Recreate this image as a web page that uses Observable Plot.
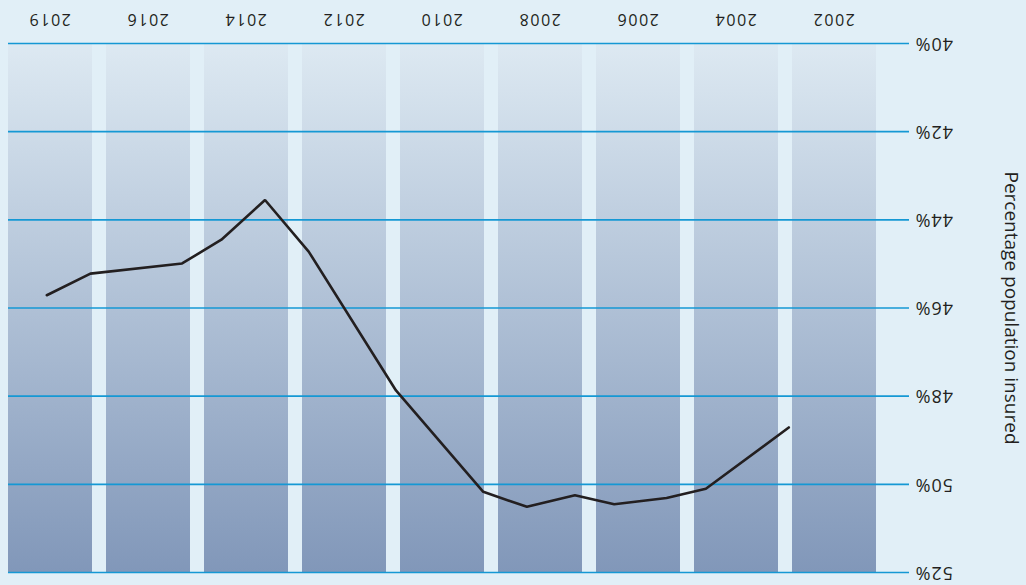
<!DOCTYPE html>
<html>
<head>
<meta charset="utf-8">
<script src="https://cdn.jsdelivr.net/npm/d3@7"></script>
<script src="https://cdn.jsdelivr.net/npm/@observablehq/plot@0.6"></script>
<style>
  html, body { margin: 0; padding: 0; background: #e1eff7; }
  #chart { position: relative; width: 1026px; height: 585px; transform: rotate(180deg); }
  #chart svg { position: absolute; left: 0; top: 0; overflow: visible; }
</style>
</head>
<body>
<div id="chart"></div>
<script>
// Period columns and their labels
const bandYears = ["2002", "2004", "2006", "2008", "2010", "2012", "2014", "2016", "2019"];
// Survey points: year and percentage of population insured
const years = [2002, 2003.9, 2004.8, 2006, 2006.9, 2008, 2009, 2011, 2013, 2014, 2015, 2015.9, 2018, 2019];
const insured = [48.71, 50.10, 50.31, 50.45, 50.25, 50.51, 50.17, 47.87, 44.72, 43.55, 44.45, 44.99, 45.22, 45.71];
// Value axis ticks
const yTicks = [40, 42, 44, 46, 48, 50, 52];

const W = 1026, H = 585;
const margins = { marginLeft: 117, marginRight: 8, marginTop: 12, marginBottom: 44 };
const font = { background: "transparent", fontFamily: "'Open Sans', sans-serif", color: "#231f20", overflow: "visible" };

// Vertical gradient used to fill the period columns
const gradientDefs = () => {
  const defs = d3.create("svg:defs");
  const g = defs.append("linearGradient")
    .attr("id", "colGrad").attr("x1", 0).attr("y1", 0).attr("x2", 0).attr("y2", 1);
  g.append("stop").attr("offset", "0%").attr("stop-color", "#8197b9");
  g.append("stop").attr("offset", "100%").attr("stop-color", "#dde9f2");
  return defs.node();
};

const base = Plot.plot({
  width: W, height: H, ...margins,
  style: font,
  x: { type: "band", domain: bandYears, range: [150, 1018], paddingInner: 0.143, paddingOuter: 0 },
  y: { domain: [40, 52] },
  marks: [
    gradientDefs,
    Plot.barY(bandYears, { x: d => d, y1: 40, y2: 52, fill: "url(#colGrad)" }),
    Plot.ruleY(yTicks, { stroke: "#1598d4", strokeWidth: 1.6 }),
    Plot.axisX({ tickSize: 0, tickPadding: 18, label: null, fontSize: 16 }),
    Plot.axisY(yTicks, {
      tickSize: 0, tickPadding: 6, tickFormat: d => d + "%", fontSize: 18,
      label: "Percentage population insured", labelAnchor: "center", labelArrow: "none",
      labelOffset: 110
    })
  ]
});

const trend = Plot.plot({
  width: W, height: H, ...margins,
  style: font,
  x: { domain: [2002, 2019], range: [236.7, 978.7], axis: null },
  y: { domain: [40, 52], range: [541, 12], axis: null },
  marks: [
    Plot.line(years.map((yr, i) => ({ yr, v: insured[i] })), {
      x: "yr", y: "v", stroke: "#231f20", strokeWidth: 2.6, strokeLinejoin: "miter"
    })
  ]
});

const chart = document.getElementById("chart");
chart.append(base, trend);
// tick label sizes and spacing, a larger axis title
base.querySelectorAll("[aria-label='x-axis tick label']").forEach(g => { g.style.fontSize = "16px"; g.style.letterSpacing = "1.5px"; });
base.querySelectorAll("[aria-label='y-axis tick label']").forEach(g => { g.style.fontSize = "18px"; g.style.letterSpacing = "1px"; });
base.querySelectorAll("[aria-label='y-axis label']").forEach(g => { g.style.fontSize = "19px"; g.style.letterSpacing = "0px"; });
</script>
</body>
</html>
